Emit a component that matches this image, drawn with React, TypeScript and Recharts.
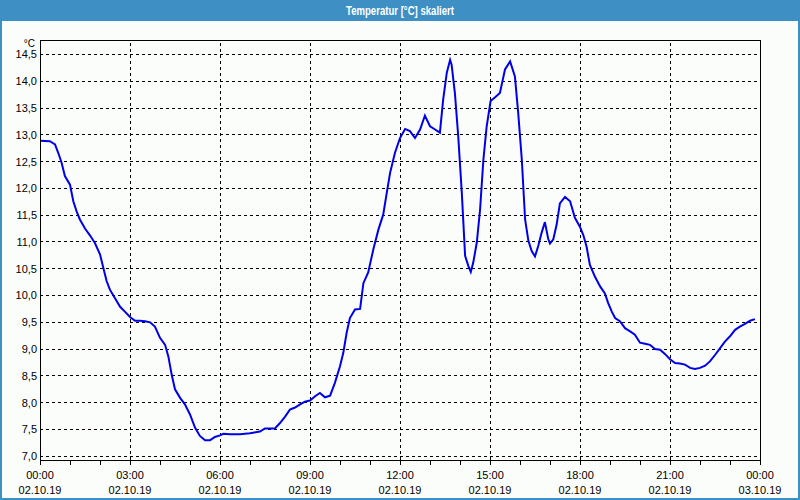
import React from 'react';
import { LineChart, Line, XAxis, YAxis, CartesianGrid, ReferenceLine, ReferenceArea } from 'recharts';

const hours = [
  0, 0.33, 0.5, 0.61, 0.72, 0.83, 1.0, 1.11, 1.22, 1.33, 1.5, 1.67, 1.83, 2.0, 2.11, 2.22, 2.33, 2.5, 2.67, 2.83,
  3.0, 3.17, 3.33, 3.5, 3.67, 3.83, 4.0, 4.17, 4.28, 4.39, 4.5, 4.67, 4.83, 5.0, 5.17, 5.33, 5.5, 5.67, 5.83,
  6.0, 6.11, 6.33, 6.67, 7.0, 7.33, 7.5, 7.83, 8.0, 8.17, 8.33, 8.5, 8.67, 8.83, 9.0, 9.17, 9.33, 9.5, 9.67, 9.83,
  10.0, 10.11, 10.22, 10.33, 10.5, 10.67, 10.78, 10.94, 11.11, 11.28, 11.44, 11.56, 11.67, 11.83,
  12.0, 12.17, 12.33, 12.5, 12.67, 12.83, 13.0, 13.17, 13.33, 13.44, 13.56, 13.67, 13.72, 13.83, 13.94,
  14.06, 14.17, 14.28, 14.36, 14.44, 14.56, 14.67, 14.78, 14.89, 15.02, 15.17, 15.33, 15.5, 15.67, 15.83, 15.94,
  16.06, 16.17, 16.28, 16.39, 16.5, 16.61, 16.72, 16.83, 16.94, 17.0, 17.11, 17.22, 17.33, 17.5, 17.67, 17.83,
  18.0, 18.11, 18.22, 18.33, 18.5, 18.67, 18.83, 18.94, 19.06, 19.17, 19.33, 19.5, 19.67, 19.83,
  20.0, 20.17, 20.33, 20.5, 20.67, 20.83, 21.0, 21.17, 21.33, 21.5, 21.67, 21.83,
  22.0, 22.17, 22.33, 22.5, 22.67, 22.83, 23.0, 23.17, 23.33, 23.5, 23.67, 23.83,
];

const temps = [
  12.89, 12.88, 12.82, 12.66, 12.48, 12.23, 12.07, 11.76, 11.57, 11.42, 11.25, 11.12, 10.98, 10.77, 10.52, 10.27, 10.11, 9.95, 9.79, 9.70,
  9.60, 9.53, 9.53, 9.52, 9.50, 9.42, 9.21, 9.08, 8.86, 8.52, 8.25, 8.09, 7.97, 7.78, 7.53, 7.38, 7.30, 7.30, 7.36,
  7.39, 7.42, 7.41, 7.41, 7.43, 7.46, 7.52, 7.52, 7.62, 7.74, 7.87, 7.91, 7.97, 8.02, 8.04, 8.12, 8.18, 8.10, 8.13, 8.37,
  8.68, 8.93, 9.30, 9.58, 9.74, 9.75, 10.23, 10.43, 10.86, 11.23, 11.51, 11.92, 12.29, 12.66,
  12.94, 13.11, 13.07, 12.94, 13.10, 13.36, 13.16, 13.10, 13.04, 13.66, 14.16, 14.40, 14.31, 13.78, 12.98,
  11.92, 10.74, 10.55, 10.44, 10.61, 10.99, 11.61, 12.54, 13.16, 13.63, 13.70, 13.78, 14.22, 14.37, 14.09, 13.41,
  12.54, 11.42, 11.02, 10.83, 10.73, 10.93, 11.17, 11.37, 11.06, 10.97, 11.05, 11.32, 11.72, 11.84, 11.76, 11.45,
  11.28, 11.13, 10.91, 10.57, 10.35, 10.17, 10.04, 9.86, 9.70, 9.58, 9.52, 9.39, 9.33, 9.27,
  9.12, 9.10, 9.08, 9.00, 8.99, 8.91, 8.81, 8.74, 8.73, 8.71, 8.65, 8.63,
  8.65, 8.69, 8.77, 8.89, 9.02, 9.14, 9.24, 9.36, 9.42, 9.47, 9.53, 9.56,
];

const hourTicks = [0, 1, 2, 3, 4, 5, 6, 7, 8, 9, 10, 11, 12, 13, 14, 15, 16, 17, 18, 19, 20, 21, 22, 23, 24];
const gridHours = [3, 6, 9, 12, 15, 18, 21];
const xTimeLabels = ['00:00', '03:00', '06:00', '09:00', '12:00', '15:00', '18:00', '21:00', '00:00'];
const xDateLabels = ['02.10.19', '02.10.19', '02.10.19', '02.10.19', '02.10.19', '02.10.19', '02.10.19', '02.10.19', '03.10.19'];
const yTicks = [7.0, 7.5, 8.0, 8.5, 9.0, 9.5, 10.0, 10.5, 11.0, 11.5, 12.0, 12.5, 13.0, 13.5, 14.0, 14.5];
const Y_MIN = 6.93;
const Y_MAX = 14.77;

const title = 'Temperatur [°C] skaliert';
const unit = '°C';

const data = hours.map((h, i) => ({ h, t: temps[i] }));

const FONT = '"Liberation Sans", Arial, sans-serif';

const XTick = (props: any) => {
  const { x, y, payload } = props;
  const v = payload.value;
  if (v % 3 !== 0) return <g />;
  const i = v / 3;
  return (
    <text x={x} y={y} textAnchor="middle" fontFamily={FONT} fontSize={11} fill="#000">
      <tspan x={x} dy={12}>{xTimeLabels[i]}</tspan>
      <tspan x={x} dy={15}>{xDateLabels[i]}</tspan>
    </text>
  );
};

export default function App() {
  return (
    <div style={{ position: 'fixed', left: 0, top: 0, width: 800, height: 500, background: '#fbfdfb', overflow: 'hidden' }}>
      <LineChart width={800} height={500} data={data} margin={{ top: 40, right: 40, bottom: 0, left: 0 }}>
        <CartesianGrid vertical={false} stroke="#000" strokeDasharray="3 3" shapeRendering="crispEdges" />
        {gridHours.map((h) => (
          <ReferenceLine key={h} x={h} stroke="#000" strokeDasharray="3 3" shapeRendering="crispEdges" />
        ))}
        <XAxis
          dataKey="h"
          type="number"
          domain={[0, 24]}
          ticks={hourTicks}
          interval={0}
          allowDataOverflow
          height={40}
          tickSize={5}
          tickMargin={2}
          tickLine={{ stroke: '#000', shapeRendering: 'crispEdges' }}
          axisLine={{ stroke: '#000', shapeRendering: 'crispEdges' }}
          tick={<XTick />}
        />
        <YAxis
          type="number"
          domain={[Y_MIN, Y_MAX]}
          ticks={yTicks}
          interval={0}
          allowDataOverflow
          width={40}
          tickSize={0}
          tickMargin={3}
          tickLine={false}
          axisLine={{ stroke: '#000', shapeRendering: 'crispEdges' }}
          tick={{ fontFamily: FONT, fontSize: 11, fill: '#000' }}
          tickFormatter={(v: number) => v.toFixed(1).replace('.', ',')}
        />
        <ReferenceArea x1={0} x2={24} y1={Y_MIN} y2={Y_MAX} fill="none" fillOpacity={0} stroke="#000" strokeWidth={1} shapeRendering="crispEdges" ifOverflow="visible" />
        <Line type="linear" dataKey="t" stroke="#0000e8" strokeWidth={2} dot={false} isAnimationActive={false} />
      </LineChart>
      <svg width={800} height={500} style={{ position: 'absolute', left: 0, top: 0, pointerEvents: 'none' }}>
        <rect x={0} y={0} width={800} height={21} fill="#3d8fc4" />
        <rect x={0} y={0} width={2} height={500} fill="#3d8fc4" />
        <rect x={798} y={0} width={2} height={500} fill="#3d8fc4" />
        <rect x={0} y={498} width={800} height={2} fill="#3d8fc4" />
        <text x={400} y={14.5} textAnchor="middle" fontFamily={FONT} fontWeight="bold" fontSize={12} fill="#fff" textLength={108} lengthAdjust="spacingAndGlyphs">
          {title}
        </text>
        <text x={35} y={46.5} textAnchor="end" fontFamily={FONT} fontSize={10} fill="#000">
          {unit}
        </text>
      </svg>
    </div>
  );
}
